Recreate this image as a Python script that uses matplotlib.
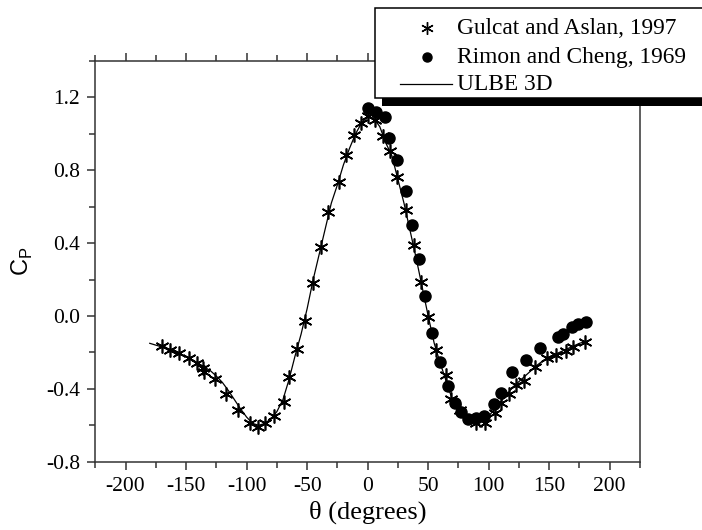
import matplotlib
matplotlib.use("Agg")
import matplotlib.pyplot as plt
from matplotlib.patches import Rectangle
from matplotlib.lines import Line2D
from matplotlib.ticker import MultipleLocator, FormatStrFormatter

plt.rcParams['font.family'] = ['Liberation Serif', 'DejaVu Serif']
plt.rcParams['mathtext.fontset'] = 'custom'
plt.rcParams['mathtext.rm'] = 'Liberation Serif'
plt.rcParams['mathtext.sf'] = 'Liberation Sans'
plt.rcParams['axes.unicode_minus'] = False

# Gulcat and Aslan, 1997
theta_ga = [-169.7, -163.6, -155.9, -147.7, -141.1, -136.1, -135.0, -126.2, -116.8,
            -106.9, -97.5, -90.9, -84.9, -77.7, -69.4, -65.0, -58.7, -52.0, -45.5,
            -38.8, -32.5, -23.7, -17.6, -11.6, -5.2, 0.0, 5.8, 12.7, 18.8, 24.6,
            31.4, 38.0, 44.4, 49.9, 56.2, 64.5, 69.2, 76.0, 89.3, 96.7, 104.9,
            110.5, 116.8, 122.9, 128.9, 138.0, 148.2, 155.9, 163.6, 169.7, 179.3]
cp_ga = [-0.165, -0.187, -0.205, -0.232, -0.260, -0.287, -0.310, -0.348, -0.428,
         -0.516, -0.585, -0.607, -0.585, -0.549, -0.472, -0.336, -0.180, -0.030, 0.180,
         0.380, 0.569, 0.737, 0.884, 0.995, 1.062, 1.100, 1.076, 0.987, 0.908, 0.765,
         0.582, 0.390, 0.188, -0.004, -0.187, -0.324, -0.458, -0.516, -0.589, -0.589, -0.530,
         -0.479, -0.428, -0.380, -0.355, -0.282, -0.229, -0.214, -0.190, -0.172, -0.141]

# Rimon and Cheng, 1969
theta_rc = [0.3, 7.2, 14.0, 18.0, 24.6, 31.7, 36.3, 42.3, 47.1, 53.5, 59.5, 66.4,
            71.9, 76.9, 82.9, 89.8, 95.9, 104.1, 110.5, 119.6, 131.2, 142.7, 157.3,
            161.4, 169.2, 173.8, 180.7]
cp_rc = [1.142, 1.120, 1.090, 0.975, 0.854, 0.686, 0.502, 0.314, 0.110, -0.095, -0.251, -0.384,
         -0.479, -0.525, -0.567, -0.562, -0.549, -0.483, -0.421, -0.306, -0.241, -0.177, -0.114,
         -0.099, -0.059, -0.046, -0.033]

# ULBE 3D
theta_ulbe = list(range(-180, 185, 5))
cp_ulbe = [-0.150, -0.160, -0.170, -0.180, -0.195, -0.210, -0.225, -0.240, -0.260, -0.280,
           -0.300, -0.330, -0.365, -0.410, -0.460, -0.510, -0.555, -0.590, -0.600, -0.590,
           -0.565, -0.525, -0.460, -0.350, -0.220, -0.100, 0.040, 0.200, 0.340, 0.480,
           0.620, 0.720, 0.830, 0.920, 1.000, 1.060, 1.095, 1.085, 1.040, 0.950, 0.880,
           0.750, 0.620, 0.470, 0.320, 0.160, 0.000, -0.150, -0.260, -0.360, -0.460,
           -0.520, -0.560, -0.585, -0.590, -0.580, -0.550, -0.510, -0.470, -0.430, -0.390,
           -0.360, -0.330, -0.300, -0.270, -0.245, -0.225, -0.210, -0.195, -0.180, -0.165,
           -0.150, -0.140]

W, H = 702, 530
fig = plt.figure(figsize=(W / 100, H / 100), dpi=100)
ax = fig.add_axes([95.3 / W, 1 - 461.7 / H, (640 - 95.3) / W, (461.7 - 61) / H])

star = (6, 2, 0)
ax.plot(theta_ulbe, cp_ulbe, color='black', lw=0.9, zorder=2)
ax.plot(theta_ga, cp_ga, ls='none', marker=star, ms=10, mew=1.2, color='black', zorder=3)
ax.plot(theta_rc, cp_rc, ls='none', marker='o', ms=8, color='black', zorder=3)

ax.set_xlim(-225, 225)
ax.set_ylim(-0.8, 1.4)
ax.xaxis.set_major_locator(MultipleLocator(50))
ax.xaxis.set_minor_locator(MultipleLocator(25))
ax.yaxis.set_major_locator(MultipleLocator(0.4))
ax.yaxis.set_minor_locator(MultipleLocator(0.2))
ax.yaxis.set_major_formatter(FormatStrFormatter('%.1f'))
ax.tick_params(which='both', direction='out', top=True, right=False, width=1.1,
               labelsize=15.5, color='#333333')
ax.tick_params(which='major', length=6, pad=5)
ax.tick_params(which='minor', length=4)
for s in ax.spines.values():
    s.set_linewidth(1.1)
    s.set_color('#333333')

ax.set_xlabel('θ (degrees)', fontsize=19, labelpad=3)
ax.set_ylabel(r'C$_{\mathsf{P}}$', fontsize=17, family='Liberation Sans', labelpad=8)


def fx(px):
    return px / W


def fy(py):
    return 1 - py / H


# legend box with a solid drop shadow, partly outside the axes
fig.add_artist(Rectangle((fx(381.7), fy(106)), fx(720) - fx(381.7), fy(16) - fy(106),
                         transform=fig.transFigure, facecolor='black', edgecolor='none',
                         zorder=5))
fig.add_artist(Rectangle((fx(374.7), fy(98.3)), fx(720) - fx(374.7), fy(8.3) - fy(98.3),
                         transform=fig.transFigure, facecolor='white', edgecolor='black',
                         lw=1.1, zorder=6))
fig.add_artist(Line2D([fx(426.7)], [fy(28)], transform=fig.transFigure, ls='none',
                      marker=star, ms=9, mew=1.0, color='black', zorder=7))
fig.add_artist(Line2D([fx(426.7)], [fy(57)], transform=fig.transFigure, ls='none',
                      marker='o', ms=6.5, color='black', zorder=7))
fig.add_artist(Line2D([fx(400), fx(452)], [fy(84), fy(84)], transform=fig.transFigure,
                      color='black', lw=0.9, zorder=7))
for label, py in [('Gulcat and Aslan, 1997', 28), ('Rimon and Cheng, 1969', 57),
                  ('ULBE 3D', 84)]:
    fig.text(fx(457), fy(py), label, fontsize=16.8, va='center', ha='left', zorder=8)

fig.savefig('out.png', dpi=100)
